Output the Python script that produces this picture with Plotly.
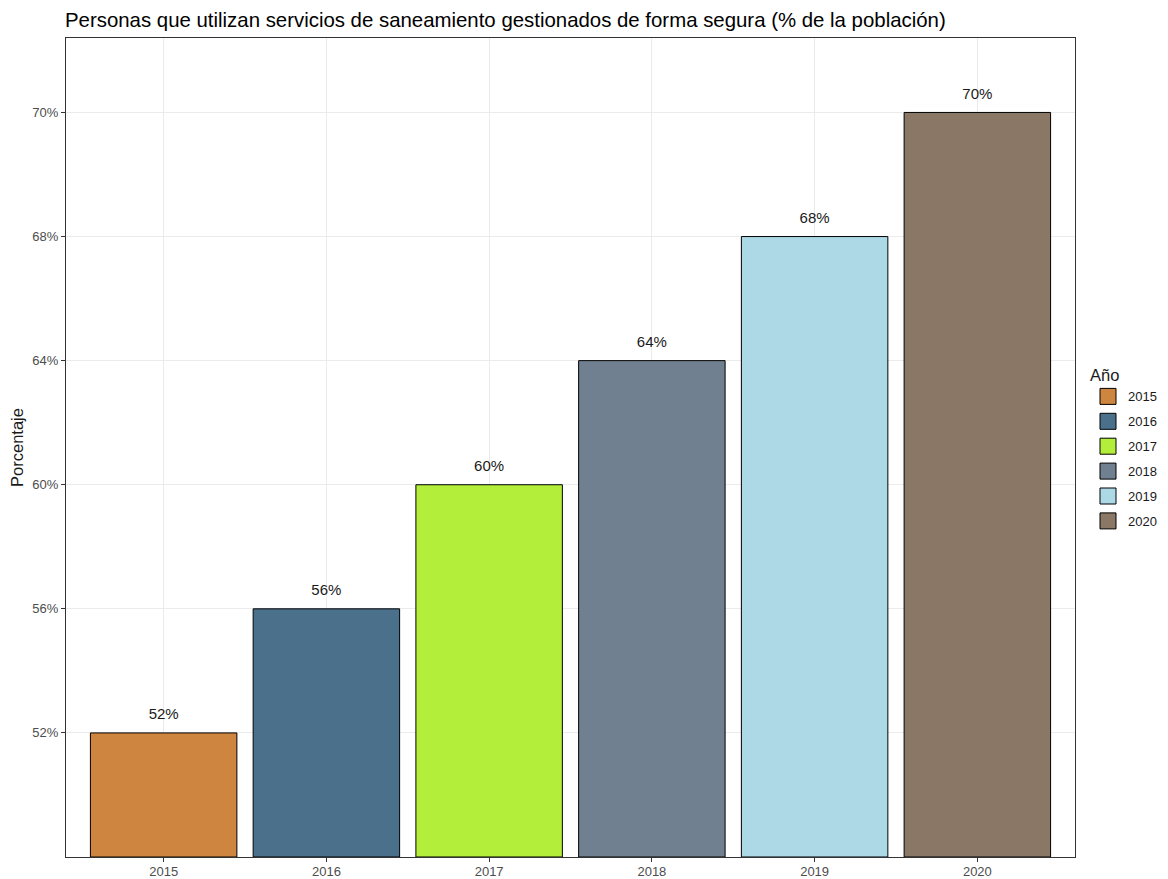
import plotly.graph_objects as go

years = ["2015", "2016", "2017", "2018", "2019", "2020"]
pct = [52, 56, 60, 64, 68, 70]
colors = ["#CD853F", "#4A708B", "#B3EE3A", "#708090", "#ADD8E6", "#8B7765"]

# y is a discrete (ordinal) scale of the percentage levels, as in the reference
levels = sorted(set(pct))
ypos = [levels.index(v) + 1 for v in pct]
tick_text = [f"{v}%" for v in levels]
labels = [f"{v}%" for v in pct]

FONT = "Liberation Sans, Arial"
W, H = 1160, 871  # page body has an 8px margin

fig = go.Figure()
fig.add_trace(go.Bar(
    x=years, y=ypos, width=0.9,
    marker=dict(color=colors, line=dict(color="black", width=1)),
    showlegend=False, hoverinfo="skip",
))
fig.add_trace(go.Scatter(
    x=years, y=[p + 0.14 for p in ypos], mode="text", text=labels,
    textposition="middle center",
    textfont=dict(size=15, color="#1A1A1A", family=FONT),
    showlegend=False, hoverinfo="skip",
))
for yr, c in zip(years, colors):
    fig.add_trace(go.Scatter(
        x=[None], y=[None], mode="markers", name=yr, legendgroup=yr,
        marker=dict(symbol="square", size=22, color=c, line=dict(color="black", width=1)),
    ))

fig.update_layout(
    width=W, height=H,
    paper_bgcolor="white", plot_bgcolor="white",
    margin=dict(l=58, r=93, t=30, b=22, autoexpand=False),
    font=dict(family=FONT, color="#1A1A1A"),
    title=dict(
        text="Personas que utilizan servicios de saneamiento gestionados de forma segura (% de la población)",
        x=57 / W, xanchor="left", y=1 - 12 / H, yanchor="middle",
        font=dict(size=20.4, color="black", family=FONT),
    ),
    legend=dict(
        title=dict(text="Año", font=dict(size=16.5, color="#1A1A1A")),
        xref="container", yref="container",
        x=1080 / W, xanchor="left", y=1 - 440 / H, yanchor="middle",
        font=dict(size=13, color="#1A1A1A"),
        tracegroupgap=5, itemsizing="trace",
        bgcolor="rgba(0,0,0,0)", borderwidth=0,
    ),
)
fig.update_xaxes(
    type="category", range=[-0.6, 5.6], automargin=False,
    showgrid=True, gridcolor="#EBEBEB", gridwidth=1,
    showline=True, linecolor="#333333", linewidth=1, mirror=True,
    ticks="outside", ticklen=4, tickcolor="#333333",
    tickfont=dict(size=13, color="#4D4D4D"), ticklabelstandoff=-2,
    zeroline=False,
)
fig.update_yaxes(
    range=[0, 6.6], automargin=False,
    tickmode="array", tickvals=list(range(1, len(levels) + 1)), ticktext=tick_text,
    showgrid=True, gridcolor="#EBEBEB", gridwidth=1,
    showline=True, linecolor="#333333", linewidth=1, mirror=True,
    ticks="outside", ticklen=4, tickcolor="#333333",
    tickfont=dict(size=13, color="#4D4D4D"),
    zeroline=False,
    title=dict(text="Porcentaje", font=dict(size=16.5, color="#1A1A1A"), standoff=11),
)

fig.write_html("out.html")
